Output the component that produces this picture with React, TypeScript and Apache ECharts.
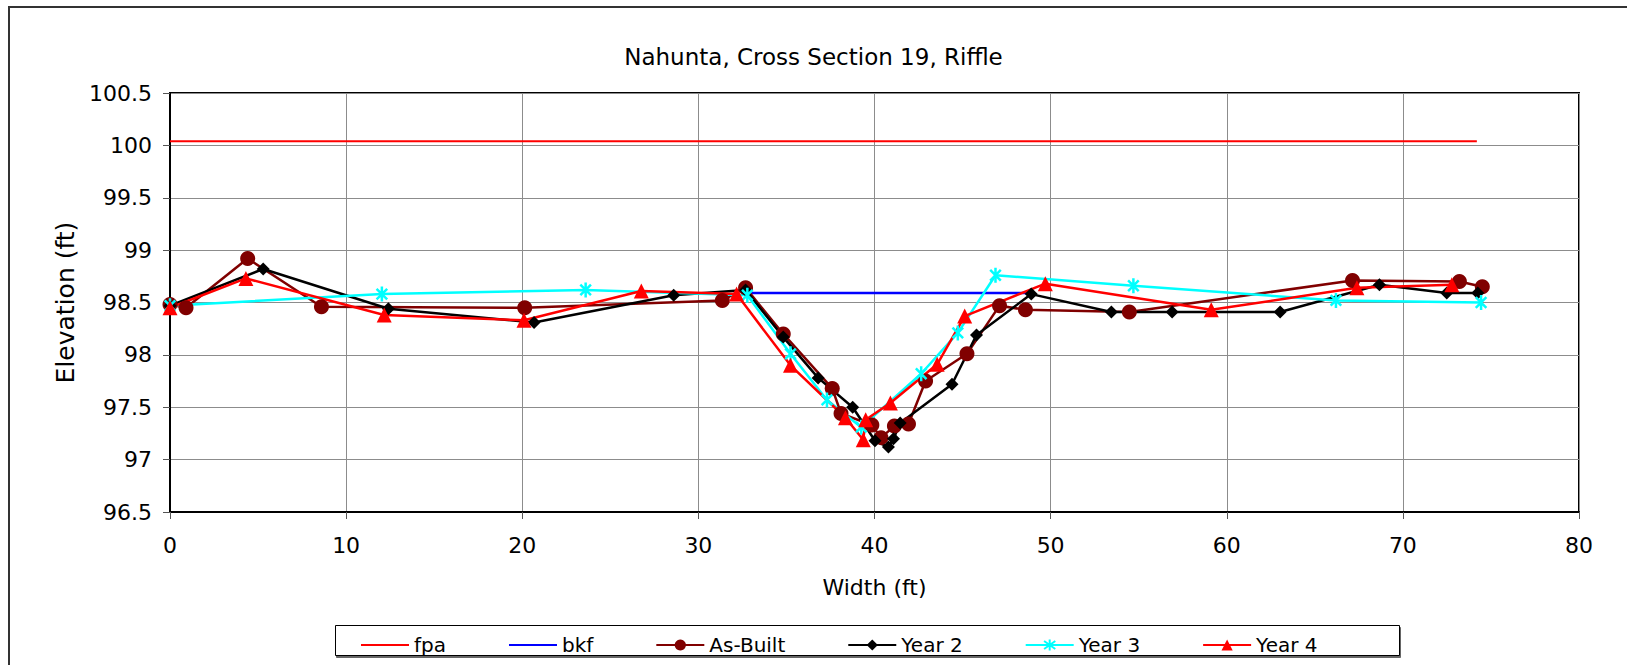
import React, { useEffect, useRef } from "react";
import * as echarts from "echarts";

const titleText = "Nahunta, Cross Section 19, Riffle";
const xName = "Width (ft)";
const yName = "Elevation (ft)";

const fpa: number[][] = [[0, 100.04], [74.2, 100.04]];
const bkf: number[][] = [[32.7, 98.59], [48.8, 98.59]];
const asBuilt: number[][] = [
  [0, 98.48], [0.91, 98.45], [4.41, 98.92], [8.6, 98.46], [20.14, 98.45], [31.36, 98.52],
  [32.68, 98.64], [34.82, 98.2], [37.6, 97.68], [38.1, 97.44], [39.85, 97.33], [40.37, 97.21],
  [41.13, 97.32], [41.93, 97.34], [42.9, 97.75], [45.25, 98.01], [47.1, 98.47], [48.57, 98.43],
  [54.47, 98.41], [67.14, 98.71], [73.21, 98.7], [74.51, 98.65],
];
const year2: number[][] = [
  [0, 98.47], [5.29, 98.82], [12.4, 98.44], [20.67, 98.31], [28.6, 98.57], [32.68, 98.62],
  [34.82, 98.17], [36.8, 97.78], [38.76, 97.5], [40.03, 97.18], [40.79, 97.12], [41.08, 97.2],
  [41.46, 97.35], [44.4, 97.72], [45.79, 98.19], [48.9, 98.58], [53.45, 98.41], [56.9, 98.41],
  [63.03, 98.41], [68.67, 98.67], [72.49, 98.59], [74.25, 98.59],
];
const year3: number[][] = [
  [0, 98.47], [12.03, 98.58], [23.6, 98.62], [32.78, 98.57], [35.23, 98.01], [37.3, 97.57],
  [39.25, 97.31], [42.65, 97.82], [44.73, 98.21], [46.87, 98.76], [54.7, 98.66], [66.2, 98.52],
  [74.44, 98.5],
];
const year4: number[][] = [
  [0, 98.45], [4.31, 98.73], [12.16, 98.38], [20.1, 98.33], [26.76, 98.61], [32.17, 98.58],
  [35.23, 97.9], [38.35, 97.4], [39.36, 97.19], [39.5, 97.38], [40.9, 97.54], [43.56, 97.91],
  [45.12, 98.37], [49.7, 98.68], [59.12, 98.43], [67.39, 98.64], [72.78, 98.67],
];
const seriesNames = ["fpa", "bkf", "As-Built", "Year 2", "Year 3", "Year 4"];
const lineOnlyNames = ["fpa", "bkf"];

const FONT = "DejaVu Sans";
const STAR = "path://M10,0L10,20M2.93,2.93L17.07,17.07M2.93,17.07L17.07,2.93";

export default function App() {
  const ref = useRef<HTMLDivElement>(null);
  useEffect(() => {
    if (!ref.current) return;
    const chart = echarts.init(ref.current, undefined, { renderer: "svg" });
    const lineSeries = (name: string, data: number[][], color: string, extra: any) => ({
      name,
      type: "line",
      data,
      lineStyle: { color, width: 2.5 },
      itemStyle: { color, borderWidth: 0 },
      ...extra,
    });
    chart.setOption({
      animation: false,
      backgroundColor: "#ffffff",
      textStyle: { fontFamily: FONT },
      title: {
        text: titleText,
        left: "center",
        top: 40,
        textStyle: { fontFamily: FONT, fontSize: 23, fontWeight: "normal", color: "#000" },
      },
      grid: {
        left: 170,
        top: 93,
        width: 1409,
        height: 419,
        show: true,
        borderColor: "#000",
        borderWidth: 2,
        backgroundColor: "transparent",
      },
      legend: {
        data: seriesNames.map((n) =>
          lineOnlyNames.indexOf(n) >= 0 ? { name: n, itemStyle: { opacity: 0 } } : { name: n }
        ),
        left: 355,
        top: 630,
        itemWidth: 48,
        itemHeight: 14,
        itemGap: 62,
        textStyle: { fontFamily: FONT, fontSize: 20, color: "#000" },
      },
      graphic: [
        {
          type: "rect",
          shape: { x: 9, y: 7, width: 1630, height: 700 },
          style: { fill: "none", stroke: "#333", lineWidth: 2 },
          silent: true,
        },
        {
          type: "rect",
          shape: { x: 335.5, y: 625.5, width: 1064, height: 30 },
          style: {
            fill: "#fff",
            stroke: "#000",
            lineWidth: 1,
            shadowColor: "rgba(0,0,0,0.6)",
            shadowOffsetY: 2,
            shadowOffsetX: 1,
            shadowBlur: 0,
          },
          z: -1,
          silent: true,
        },
      ],
      xAxis: {
        type: "value",
        min: 0,
        max: 80,
        interval: 10,
        name: xName,
        nameLocation: "middle",
        nameGap: 64,
        nameTextStyle: { fontFamily: FONT, fontSize: 22, color: "#000" },
        axisLine: { show: true, onZero: false, lineStyle: { color: "#000", width: 2 } },
        axisTick: { show: true, length: 7, lineStyle: { color: "#555" } },
        axisLabel: { fontFamily: FONT, fontSize: 22, color: "#000", margin: 22 },
        splitLine: { show: true, lineStyle: { color: "#8c8c8c", width: 1 } },
      },
      yAxis: {
        type: "value",
        min: 96.5,
        max: 100.5,
        interval: 0.5,
        name: yName,
        nameLocation: "middle",
        nameGap: 88,
        nameTextStyle: { fontFamily: FONT, fontSize: 25, color: "#000" },
        axisLine: { show: true, onZero: false, lineStyle: { color: "#000", width: 2 } },
        axisTick: { show: true, length: 7, lineStyle: { color: "#555" } },
        axisLabel: { fontFamily: FONT, fontSize: 22, color: "#000", margin: 18 },
        splitLine: { show: true, lineStyle: { color: "#8c8c8c", width: 1 } },
      },
      series: [
        lineSeries("fpa", fpa, "#ff0000", { symbol: "none", lineStyle: { color: "#ff0000", width: 2 } }),
        lineSeries("bkf", bkf, "#0000ff", { symbol: "none" }),
        lineSeries("As-Built", asBuilt, "#800000", { symbol: "circle", symbolSize: 15 }),
        lineSeries("Year 2", year2, "#000000", { symbol: "diamond", symbolSize: 13 }),
        lineSeries("Year 3", year3, "#00ffff", {
          symbol: STAR,
          symbolSize: 15,
          symbolKeepAspect: true,
          itemStyle: { color: "#00ffff", borderColor: "#00ffff", borderWidth: 2.5 },
        }),
        lineSeries("Year 4", year4, "#ff0000", { symbol: "triangle", symbolSize: 15 }),
      ],
    });
    return () => chart.dispose();
  }, []);
  return (
    <div
      ref={ref}
      style={{ position: "absolute", left: 0, top: 0, width: 1627, height: 665 }}
    />
  );
}
